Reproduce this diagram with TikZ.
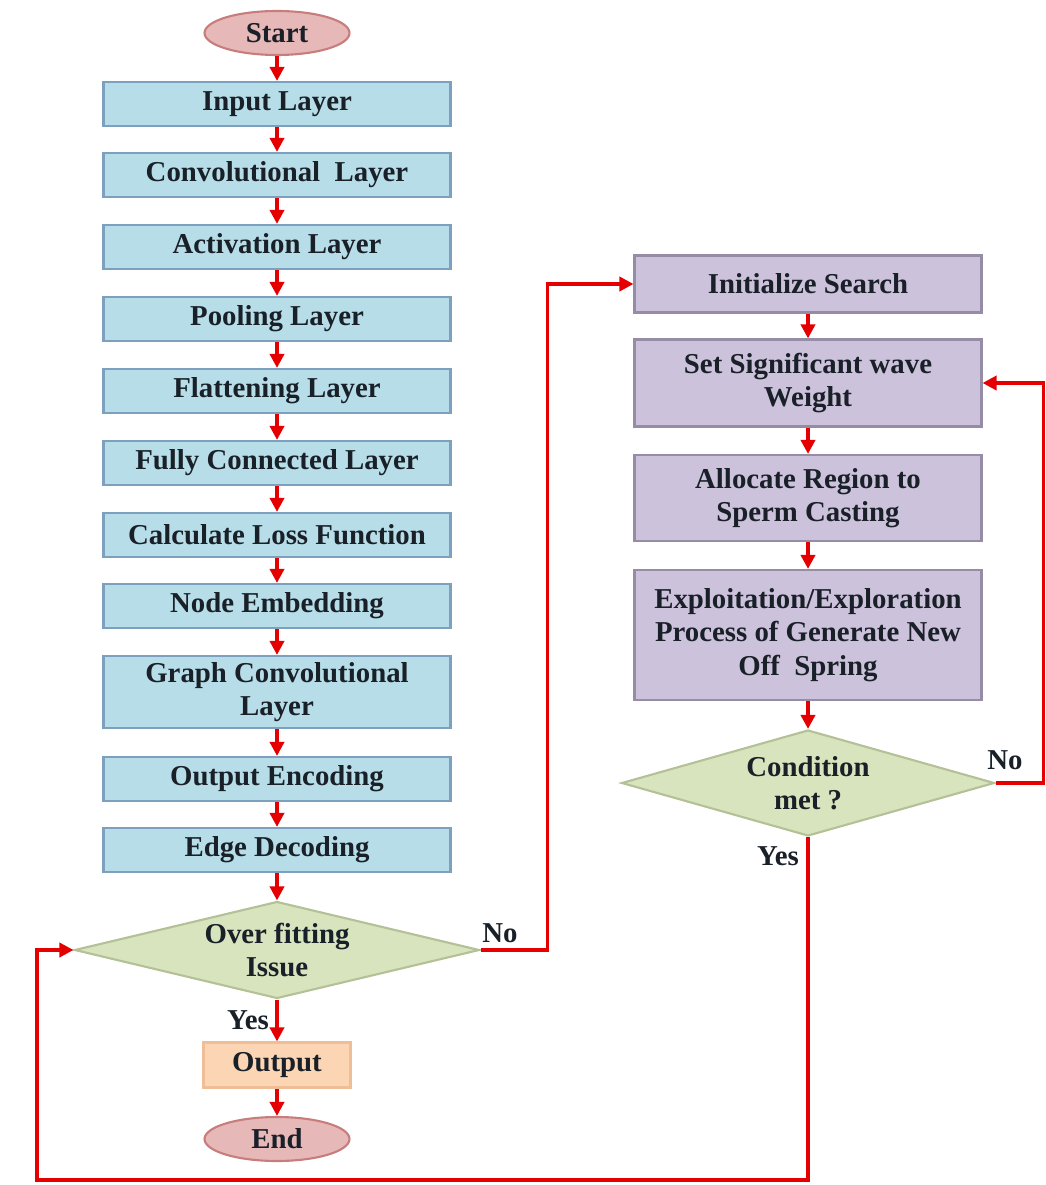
\documentclass[tikz,border=0pt]{standalone}
\usepackage{fontspec}
\setmainfont{Liberation Serif}
\usetikzlibrary{shapes.geometric,arrows.meta}
\definecolor{boxblue}{RGB}{183,221,232}
\definecolor{lineblue}{RGB}{125,160,190}
\definecolor{boxpurple}{RGB}{205,194,220}
\definecolor{linepurple}{RGB}{150,140,165}
\definecolor{decgreen}{RGB}{216,228,190}
\definecolor{linegreen}{RGB}{180,192,150}
\definecolor{ovalpink}{RGB}{230,184,183}
\definecolor{linepink}{RGB}{200,125,125}
\definecolor{boxorange}{RGB}{252,213,181}
\definecolor{lineorange}{RGB}{240,190,150}
\definecolor{flowred}{RGB}{228,0,0}
\definecolor{inkdark}{RGB}{25,32,40}
\begin{document}
\begin{tikzpicture}[
    x=0.02cm, y=-0.02cm,
    every node/.style={font=\fontsize{16.4}{19}\selectfont\bfseries, text=inkdark, inner sep=2pt},
    oval/.style={ellipse, draw=linepink, fill=ovalpink, line width=1.2pt, minimum width=2.9cm, minimum height=0.88cm},
    layer/.style={rectangle, draw=lineblue, fill=boxblue, line width=1.2pt, minimum width=6.94cm, minimum height=0.88cm, align=center},
    search/.style={rectangle, draw=linepurple, fill=boxpurple, line width=1.2pt, minimum width=6.94cm, align=center},
    decision/.style={diamond, draw=linegreen, fill=decgreen, line width=1.2pt, aspect=4, inner sep=0pt, align=center},
    arr/.style={draw=flowred, line width=2pt, -{Triangle[width=8pt,length=8pt]}}
]
\useasboundingbox (0,0) rectangle (1045,1185);

% left column
\node[oval] (start) at (277,33) {Start};
\node[layer] (input) at (277,104) {Input Layer};
\node[layer] (conv) at (277,175) {Convolutional~~Layer};
\node[layer] (act) at (277,247) {Activation Layer};
\node[layer] (pool) at (277,319) {Pooling Layer};
\node[layer] (flat) at (277,391) {Flattening Layer};
\node[layer] (fc) at (277,463) {Fully Connected Layer};
\node[layer] (loss) at (277,535) {Calculate Loss Function};
\node[layer] (embed) at (277,606) {Node Embedding};
\node[layer, minimum height=1.44cm] (gcl) at (277,692) {Graph Convolutional\\Layer};
\node[layer] (outenc) at (277,779) {Output Encoding};
\node[layer] (edge) at (277,850) {Edge Decoding};
\node[decision, minimum width=8.1cm, minimum height=1.94cm] (overfit) at (277,950) {Over fitting\\Issue};
\node[rectangle, draw=lineorange, fill=boxorange, line width=1.2pt, minimum width=2.94cm, minimum height=0.9cm] (output) at (277,1065) {Output};
\node[oval] (stop) at (277,1139) {End};

% right column
\node[search, minimum height=1.14cm] (init) at (808,284) {Initialize Search};
\node[search, minimum height=1.74cm] (setw) at (808,383) {Set Significant wave\\Weight};
\node[search, minimum height=1.72cm] (alloc) at (808,498) {Allocate Region to\\Sperm Casting};
\node[search, minimum height=2.6cm] (explo) at (808,635) {Exploitation/Exploration\\Process of Generate New\\Off~~Spring};
\node[decision, minimum width=7.46cm, minimum height=2.12cm] (cond) at (808,783) {Condition\\met ?};

% connectors
\draw[arr] (start) -- (input);
\draw[arr] (input) -- (conv);
\draw[arr] (conv) -- (act);
\draw[arr] (act) -- (pool);
\draw[arr] (pool) -- (flat);
\draw[arr] (flat) -- (fc);
\draw[arr] (fc) -- (loss);
\draw[arr] (loss) -- (embed);
\draw[arr] (embed) -- (gcl);
\draw[arr] (gcl) -- (outenc);
\draw[arr] (outenc) -- (edge);
\draw[arr] (edge) -- (overfit);
\draw[arr] (overfit) -- (output);
\draw[arr] (output) -- (stop);
\draw[arr] (init) -- (setw);
\draw[arr] (setw) -- (alloc);
\draw[arr] (alloc) -- (explo);
\draw[arr] (explo) -- (cond);
\draw[arr] (overfit.east) -- ++(67,0) |- (init.west);
\draw[arr] (cond.east) -- ++(48,0) |- (setw.east);
\draw[arr] (cond.south) |- (37,1180) |- (overfit.west);

% branch labels
\node (nofit) at (500,933) {No};
\node (yesfit) at (248,1020) {Yes};
\node (nocond) at (1005,760) {No};
\node (yescond) at (778,856) {Yes};
\end{tikzpicture}
\end{document}
